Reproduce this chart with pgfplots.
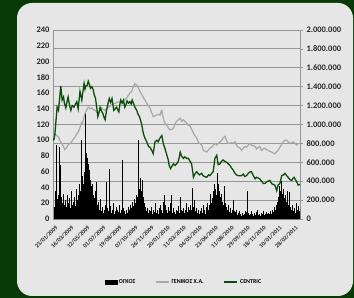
\documentclass[border=0pt]{standalone}
\usepackage{pgfplots}
\pgfplotsset{compat=1.18}
\usepackage{pgfplotstable}
\usepackage{fontspec}
\setmainfont{Carlito}
\definecolor{bggreen}{RGB}{8,58,8}
\definecolor{panel}{RGB}{230,230,230}
\definecolor{centric}{RGB}{10,78,10}
\definecolor{genikos}{RGB}{168,168,168}
\definecolor{gridc}{RGB}{150,150,150}
\newcommand\tickfont{\fontsize{8.5}{10}\selectfont\bfseries}
% daily volume (thousands of shares), one value every 2 trading days
\pgfplotstableread[header=false,row sep=\\]{
100\\183\\125\\292\\783\\208\\250\\758\\567\\233\\167\\208\\267\\150\\200\\125\\250\\167\\217\\117\\
292\\150\\183\\100\\233\\133\\317\\200\\250\\375\\292\\833\\458\\375\\500\\433\\1125\\700\\650\\583\\
517\\417\\350\\375\\250\\217\\292\\167\\392\\150\\183\\100\\208\\83\\125\\67\\100\\150\\75\\392\\
117\\83\\533\\133\\67\\100\\167\\58\\83\\125\\50\\92\\75\\150\\67\\100\\625\\117\\83\\50\\
100\\67\\125\\75\\92\\150\\117\\183\\133\\208\\167\\250\\233\\833\\375\\317\\433\\292\\417\\233\\
167\\125\\83\\117\\67\\100\\50\\83\\125\\58\\100\\75\\167\\67\\92\\50\\117\\75\\150\\100\\
67\\183\\250\\150\\100\\67\\125\\83\\167\\250\\100\\67\\117\\75\\50\\100\\83\\133\\67\\233\\
100\\58\\83\\117\\67\\100\\167\\75\\125\\92\\150\\100\\183\\333\\125\\200\\83\\117\\67\\100\\
50\\83\\117\\67\\150\\83\\100\\58\\125\\167\\100\\150\\267\\167\\217\\292\\233\\375\\317\\250\\
492\\375\\300\\233\\267\\183\\150\\208\\350\\167\\125\\100\\150\\75\\117\\67\\100\\200\\83\\50\\
75\\100\\42\\67\\83\\50\\33\\67\\42\\58\\83\\50\\75\\300\\67\\42\\58\\83\\50\\33\\
67\\42\\75\\50\\100\\42\\58\\33\\67\\50\\83\\42\\58\\75\\50\\33\\67\\50\\83\\58\\
100\\75\\125\\100\\150\\183\\233\\208\\350\\292\\400\\267\\317\\217\\250\\183\\300\\150\\200\\283\\
125\\100\\150\\83\\117\\67\\167\\100\\133\\83\\117\\
}\vol
\begin{document}
\begin{tikzpicture}
\fill[bggreen] (0,0) rectangle (354bp,298bp);
\fill[panel, rounded corners=15bp] (17bp,2bp) rectangle (353bp,295bp);
\path[use as bounding box] (0,0) rectangle (354bp,298bp);
% volume axis (right)
\begin{axis}[
  at={(53bp,79bp)}, anchor=south west, scale only axis,
  width=247bp, height=189bp,
  xmin=0, xmax=540, ymin=0, ymax=2000,
  axis x line*=bottom, axis y line*=right,
  x axis line style={draw=gray, line width=2bp},
  y axis line style={draw=gridc, line width=0.8bp},
  ytick={0,200,...,2000},
  yticklabels={0,200.000,400.000,600.000,800.000,1.000.000,1.200.000,1.400.000,1.600.000,1.800.000,2.000.000},
  y tick label style={font=\tickfont, color=black!85},
  ymajorgrids, grid style={draw=gridc, line width=0.9bp},
  tick align=outside, major tick length=3bp,
  ytick style={draw=gridc, line width=0.7bp},
  xtick={0,35,...,525},
  xticklabels={23/01/2009,16/03/2009,12/05/2009,01/07/2009,19/08/2009,07/10/2009,26/11/2009,20/01/2010,11/03/2010,04/05/2010,23/06/2010,11/08/2010,29/09/2010,18/11/2010,10/01/2011,28/02/2011},
  x tick label style={rotate=45, anchor=north east, font=\fontsize{6}{7}\selectfont\bfseries, color=black!85, inner sep=0.5pt, yshift=-3bp},
  xtick style={draw=none},
]
\addplot[ycomb, black, line width=1bp, mark=none] table[x expr=\coordindex*2, y index=0] {\vol};
\end{axis}
% price axis (left)
\begin{axis}[
  at={(53bp,79bp)}, anchor=south west, scale only axis,
  width=247bp, height=189bp,
  xmin=0, xmax=540, ymin=0, ymax=240,
  axis x line=none, axis y line*=left,
  y axis line style={draw=gridc, line width=0.8bp},
  ytick={0,20,...,240}, ytick style={draw=none},
  y tick label style={font=\tickfont, color=black!85, /pgf/number format/assume math mode=true},
  legend columns=3,
  legend style={at={(0.53,-0.333)}, anchor=center, draw=none, fill=none,
    font=\fontsize{6}{7}\selectfont\bfseries,
    /tikz/every even column/.append style={column sep=18bp}},
  legend image code/.code={\draw[#1] (0bp,0bp) -- (13bp,0bp);},
]
\addlegendimage{black, legend image code/.code={\fill[black] (0bp,-2bp) rectangle (12bp,2bp);}}
\addlegendentry{ΟΓΚΟΣ}
\addplot[genikos, line width=1.2bp, mark=none] coordinates {
(0,104) (1,106) (4,108) (8,106) (12,104) (15,100) (19,96) (22,93) (26,88) (29,90) (33,94) (37,96) (41,98) (44,101) (48,104) (51,107) (55,110) (59,116) (62,122) (64,121) (67,128) (70,134) (73,138) (77,142) (81,140) (85,141) (88,139) (92,138) (95,136) (99,134) (102,138) (106,141) (110,139) (114,138) (117,140) (121,142) (125,143) (128,145) (132,146) (136,147) (139,148) (143,149) (146,148) (150,149) (154,150) (157,151) (161,154) (165,157) (168,160) (172,162) (175,167) (179,172) (182,170) (184,170) (187,166) (190,162) (194,158) (197,155) (201,151) (205,147) (208,144) (212,141) (215,136) (219,130) (223,131) (227,132) (230,133) (234,132) (236,136) (238,138) (240,131) (243,124) (246,121) (249,119) (253,115) (256,113) (260,114) (263,115) (267,121) (270,124) (274,126) (278,128) (281,124) (285,126) (288,124) (292,122) (296,119) (299,119) (303,114) (307,109) (310,106) (314,103) (318,97) (321,96) (325,94) (329,87) (333,86) (336,85) (340,88) (343,90) (347,91) (351,94) (354,96) (358,94) (361,96) (365,98) (369,100) (372,103) (376,105) (379,100) (383,96) (387,96) (390,97) (394,96) (398,98) (401,94) (405,91) (409,90) (412,87) (416,90) (420,92) (423,91) (427,94) (431,96) (434,94) (438,93) (442,92) (445,89) (449,91) (452,92) (456,87) (460,89) (463,90) (467,88) (471,87) (474,86) (478,85) (481,84) (485,83) (488,85) (492,87) (496,91) (500,95) (503,98) (507,100) (511,100) (514,98) (518,96) (522,97) (525,98) (529,96) (533,94) (536,96) (540,96)
};
\addlegendentry{ΓΕΝΙΚΟΣ Χ.Α.}
\addplot[centric, line width=1.3bp, mark=none] coordinates {
(0,100) (2,101) (4,107) (7,128) (9,142) (12,138) (14,150) (17,169) (20,151) (23,155) (25,147) (28,141) (31,150) (33,155) (36,145) (39,138) (42,144) (46,142) (49,146) (52,149) (55,140) (59,162) (63,151) (65,160) (68,172) (70,165) (72,169) (75,170) (77,175) (80,170) (82,166) (85,168) (88,164) (90,158) (93,153) (96,140) (98,130) (101,136) (103,142) (106,137) (109,134) (111,130) (114,126) (117,138) (120,146) (123,153) (126,148) (129,153) (131,145) (133,138) (136,140) (139,142) (141,139) (144,136) (146,145) (148,151) (151,147) (154,151) (157,142) (160,146) (162,150) (165,147) (168,149) (171,146) (173,151) (176,147) (179,142) (181,140) (183,138) (186,133) (189,130) (192,124) (194,120) (197,110) (200,104) (205,98) (209,92) (212,91) (216,87) (219,83) (223,98) (227,100) (230,98) (234,103) (238,106) (241,96) (245,89) (248,83) (252,75) (254,68) (257,64) (260,67) (263,70) (267,68) (270,70) (273,72) (276,78) (278,85) (281,80) (285,77) (288,79) (292,77) (296,77) (299,74) (303,70) (305,62) (307,53) (310,57) (314,60) (317,58) (320,56) (325,58) (328,55) (331,54) (336,53) (340,56) (343,55) (347,58) (350,60) (352,68) (354,77) (358,81) (361,69) (365,70) (368,73) (372,75) (376,73) (380,72) (383,70) (387,68) (390,65) (394,62) (398,58) (401,56) (405,55) (409,55) (412,55) (416,57) (419,54) (423,55) (427,58) (431,60) (434,60) (438,55) (442,51) (445,53) (449,52) (452,51) (456,48) (460,45) (463,45) (467,47) (470,48) (474,49) (478,45) (481,44) (485,43) (489,36) (492,43) (496,45) (498,50) (500,55) (504,56) (507,58) (511,55) (514,53) (518,50) (522,49) (525,52) (527,53) (530,50) (533,47) (536,43) (540,44)
};
\addlegendentry{CENTRIC}
\end{axis}
\end{tikzpicture}
\end{document}
